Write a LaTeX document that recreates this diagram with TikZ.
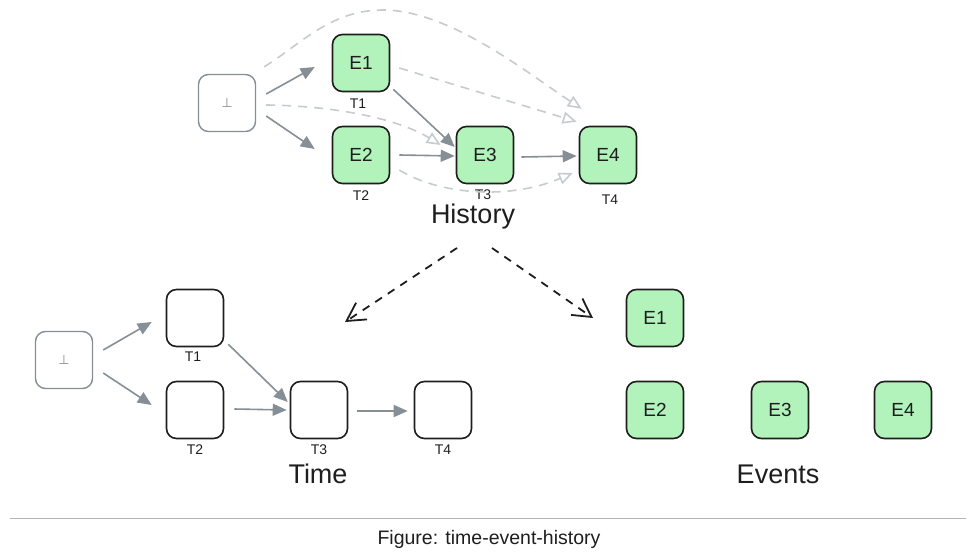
\documentclass[tikz,border=0pt]{standalone}
\usepackage{fontspec}
\setmainfont{Liberation Sans}
\newfontfamily\symfont{DejaVu Sans}
\usetikzlibrary{arrows.meta,calc}
\definecolor{grn}{HTML}{B2F2BB}
\definecolor{ink}{HTML}{1E1E1E}
\definecolor{arr}{HTML}{868E96}
\definecolor{lite}{HTML}{C6CBD0}
\definecolor{rule}{HTML}{B0B4B8}
\begin{document}
\begin{tikzpicture}[x=1pt,y=-1pt,
 box/.style={draw=ink, line width=1.6pt, rounded corners=10pt, minimum width=57pt, minimum height=57pt, inner sep=0pt, font=\fontsize{19}{19}\selectfont, text=ink},
 evbox/.style={box, fill=grn},
 botbox/.style={draw=arr, line width=1.4pt, rounded corners=10pt, minimum width=57pt, minimum height=57pt, inner sep=0pt, text=arr, font=\symfont\fontsize{13}{13}\selectfont},
 tlabel/.style={font=\fontsize{14}{14}\selectfont, text=ink, inner sep=0pt},
 title/.style={font=\fontsize{27}{27}\selectfont, text=ink, inner sep=0pt},
 flow/.style={draw=arr, line width=1.6pt, -{Triangle[length=14pt,width=12pt]}},
 ghost/.style={draw=lite, line width=1.6pt, dash pattern=on 9pt off 7pt, -{Triangle[open,length=14pt,width=12pt]}},
 split/.style={draw=ink, line width=1.8pt, dash pattern=on 8pt off 7pt, -{Straight Barb[length=18pt,width=20pt]}},
]
\useasboundingbox (0,0) rectangle (976,559);
% ---------- History ----------
\node[botbox] (hb) at (227,103) {⊥};
\node[evbox] (he1) at (361,63) {E1};
\node[evbox] (he2) at (361,155) {E2};
\node[evbox] (he3) at (485,155) {E3};
\node[evbox] (he4) at (608,155) {E4};
\node[tlabel] (ht1) at (358,104) {T1};
\node[tlabel] (ht2) at (361,196) {T2};
\node[tlabel] (ht3) at (483,195) {T3};
\node[tlabel] (ht4) at (610,200) {T4};
\node[title] (hist) at (473,217) {History};

\draw[ghost] ($(hb.north east)+(8,-7)$) .. controls (300,45) and (330,10) .. (383,10)
   .. controls (450,10) and (530,75) .. ($(he4.north west)+(3,-17)$);
\draw[ghost] ($(he1.east)+(9,5)$) -- ($(he4.north west)+(-2,-4)$);
\draw[ghost] ($(hb.east)+(10,2)$) .. controls (340,106) and (400,120) .. ($(he3.west)+(-15,-10)$);
\draw[ghost] ($(he2.east)+(9,15)$) .. controls (440,195) and (510,200) .. ($(he4.west)+(-6,18)$);

\draw[flow] ($(hb.east)+(10,-9)$) -- ($(he1.west)+(-17,4)$);
\draw[flow] ($(hb.east)+(10,13)$) -- ($(he2.west)+(-17,-6)$);
\draw[flow] ($(he1.south east)+(3,-3)$) -- ($(he3.west)+(-1,-8)$);
\draw[flow] ($(he2.east)+(9,0)$) -- ($(he3.west)+(-1,1)$);
\draw[flow] ($(he3.east)+(7,2)$) -- ($(he4.west)+(-2,1)$);

% ---------- split ----------
\coordinate (timein) at (345,322);
\coordinate (eventsin) at (593,318);
\draw[split] ($(hist.center)+(-16,31)$) -- (timein);
\draw[split] ($(hist.center)+(19,31)$) -- (eventsin);

% ---------- Time ----------
\node[botbox] (tb) at (64,360) {⊥};
\node[box] (t1) at (195,318) {};
\node[box] (t2) at (195,410) {};
\node[box] (t3) at (319,410) {};
\node[box] (t4) at (443,410) {};
\node[tlabel] (tt1) at (193,357) {T1};
\node[tlabel] (tt2) at (195,450) {T2};
\node[tlabel] (tt3) at (319,450) {T3};
\node[tlabel] (tt4) at (443,450) {T4};
\node[title] (time) at (318,474) {Time};

\draw[flow] ($(tb.east)+(10,-10)$) -- ($(t1.west)+(-14,4)$);
\draw[flow] ($(tb.east)+(10,13)$) -- ($(t2.west)+(-14,-5)$);
\draw[flow] ($(t1.south east)+(4,-3)$) -- ($(t3.west)+(-2,-8)$);
\draw[flow] ($(t2.east)+(10,-1)$) -- ($(t3.west)+(-3,0)$);
\draw[flow] ($(t3.east)+(9,1)$) -- ($(t4.west)+(-6,1)$);

% ---------- Events ----------
\node[evbox] (ee1) at (655,318) {E1};
\node[evbox] (ee2) at (655,410) {E2};
\node[evbox] (ee3) at (780,410) {E3};
\node[evbox] (ee4) at (903,410) {E4};
\node[title] (events) at (778,474) {Events};

% ---------- caption ----------
\coordinate (rl) at (10,518);
\coordinate (rr) at (966,518);
\draw[rule, line width=1pt] (rl) -- (rr);
\node[font=\fontsize{19.5}{19.5}\selectfont, text=ink, inner sep=0pt] (cap) at (489,539) {Figure: time-event-history};
\end{tikzpicture}
\end{document}
